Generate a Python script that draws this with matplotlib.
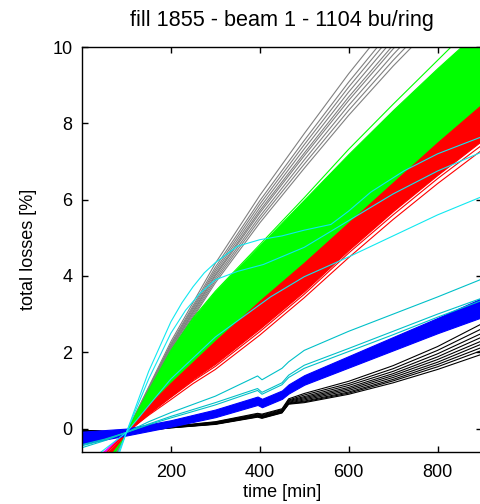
"""Total losses vs time for fill 1855, beam 1 (bundles of bunch-by-bunch curves)."""

from __future__ import annotations

import matplotlib

matplotlib.use("Agg")
matplotlib.rcParams["font.family"] = ["Liberation Sans", "DejaVu Sans"]
matplotlib.rcParams["font.size"] = 13

import matplotlib.pyplot as plt  # noqa: E402

OUTPUT = "out.png"

# time grids [min]
T_GRAY = [0, 100, 200, 300, 400, 500, 600, 700, 800, 900]
T_FAN = [0, 50, 100, 150, 200, 250, 300, 400, 500, 600, 700, 800, 900]
T_STEP = [0, 100, 200, 300, 395, 405, 450, 465, 500, 600, 700, 800, 900]
T_TEAL = [0, 50, 100, 150, 200, 300, 395, 405, 450, 465, 500, 600, 700, 800, 900]
T_CYAN1 = [0, 50, 100, 150, 200, 225, 250, 275, 300, 350, 400, 450, 500, 560, 600, 650, 724, 800, 900]
T_CYAN2 = [0, 50, 100, 150, 200, 233, 266, 300, 350, 408, 500, 600, 700, 800, 900]
T_CYAN3 = [0, 50, 100, 200, 300, 424, 500, 600, 700, 800, 900]

# gray bundle [%]
gray_lines = [
    [-2.39, -0.1, 2.00, 3.82, 5.39, 6.82, 8.21, 9.50, 10.69, 11.84],
    [-2.43, -0.1, 2.03, 3.88, 5.48, 6.93, 8.34, 9.65, 10.86, 12.03],
    [-2.46, -0.1, 2.07, 3.94, 5.56, 7.04, 8.47, 9.80, 11.03, 12.21],
    [-2.50, -0.1, 2.10, 4.00, 5.65, 7.15, 8.60, 9.95, 11.20, 12.40],
    [-2.52, -0.1, 2.12, 4.04, 5.71, 7.22, 8.69, 10.05, 11.31, 12.53],
    [-2.56, -0.1, 2.16, 4.10, 5.79, 7.33, 8.82, 10.20, 11.48, 12.71],
    [-2.60, -0.1, 2.19, 4.16, 5.88, 7.44, 8.95, 10.35, 11.65, 12.90],
    [-2.63, -0.1, 2.22, 4.23, 5.97, 7.55, 9.08, 10.50, 11.82, 13.09],
    [-2.69, -0.1, 2.28, 4.33, 6.11, 7.73, 9.30, 10.75, 12.10, 13.40],
]

# green / red / magenta fan (on T_FAN)
green_top = [-2.0, -1.05, -0.1, 1.0, 2.05, 2.9, 3.6, 4.8, 6.0, 7.2, 8.35, 9.45, 10.5]
green_stray = [-2.1, -1.1, -0.1, 1.0, 2.05, 2.9, 3.6, 4.82, 6.05, 7.32, 8.5, 9.65, 10.8]
red_top = [-1.6, -0.85, -0.1, 0.62, 1.2, 1.75, 2.3, 3.35, 4.35, 5.4, 6.45, 7.5, 8.5]
red_bottom = [-1.35, -0.72, -0.1, 0.4, 0.85, 1.3, 1.7, 2.62, 3.6, 4.68, 5.7, 6.65, 7.55]
red_stray = [
    [-1.3, -0.7, -0.1, 0.38, 0.82, 1.25, 1.63, 2.54, 3.52, 4.6, 5.6, 6.55, 7.43],
    [-1.25, -0.68, -0.1, 0.35, 0.76, 1.18, 1.55, 2.45, 3.43, 4.48, 5.48, 6.42, 7.3],
]
magenta_line = [-1.15, -0.62, -0.1, 0.45, 0.95, 1.45, 1.9, 2.85, 3.8, 4.85, 5.85, 6.8, 7.7]

# blue band (on T_STEP)
blue_low = [-0.40, -0.18, 0.05, 0.30, 0.62, 0.56, 0.78, 0.92, 1.15, 1.60, 2.05, 2.50, 2.92]
blue_high = [-0.08, 0.0, 0.22, 0.50, 0.84, 0.78, 1.00, 1.16, 1.40, 1.90, 2.40, 2.90, 3.42]

# black bundle (on T_STEP)
black_lines = [
    [-0.05, -0.1, 0.02, 0.11, 0.30, 0.27, 0.41, 0.64, 0.68, 0.90, 1.20, 1.55, 1.95],
    [-0.05, -0.1, 0.02, 0.12, 0.31, 0.28, 0.42, 0.65, 0.70, 0.93, 1.25, 1.62, 2.05],
    [-0.05, -0.1, 0.03, 0.12, 0.32, 0.29, 0.43, 0.66, 0.72, 0.96, 1.29, 1.68, 2.13],
    [-0.05, -0.1, 0.03, 0.13, 0.33, 0.30, 0.44, 0.67, 0.75, 1.00, 1.34, 1.74, 2.22],
    [-0.06, -0.1, 0.04, 0.14, 0.34, 0.31, 0.45, 0.69, 0.78, 1.04, 1.39, 1.81, 2.30],
    [-0.06, -0.1, 0.04, 0.15, 0.35, 0.32, 0.47, 0.71, 0.81, 1.08, 1.44, 1.88, 2.40],
    [-0.06, -0.1, 0.05, 0.16, 0.36, 0.34, 0.48, 0.73, 0.84, 1.13, 1.50, 1.96, 2.50],
    [-0.06, -0.1, 0.05, 0.17, 0.38, 0.36, 0.50, 0.75, 0.88, 1.18, 1.57, 2.05, 2.62],
    [-0.06, -0.1, 0.06, 0.18, 0.40, 0.38, 0.52, 0.78, 0.92, 1.24, 1.65, 2.15, 2.75],
]

# teal lines (on T_TEAL)
teal_lines = [
    [-0.45, -0.30, -0.1, 0.18, 0.42, 0.85, 1.38, 1.28, 1.58, 1.75, 2.05, 2.55, 3.00, 3.45, 3.92],
    [-0.42, -0.28, -0.1, 0.12, 0.32, 0.68, 1.05, 0.95, 1.20, 1.40, 1.66, 2.10, 2.55, 3.00, 3.42],
    [-0.50, -0.32, -0.1, 0.10, 0.28, 0.62, 1.00, 0.90, 1.15, 1.34, 1.58, 2.02, 2.46, 2.92, 3.36],
]

# bright cyan lines
cyan1 = [-3.5, -1.8, -0.1, 1.5, 2.8, 3.3, 3.72, 4.08, 4.35, 4.78, 4.95, 5.05, 5.2, 5.35, 5.7,
         6.2, 6.75, 7.2, 7.65]
cyan2 = [-3.0, -1.55, -0.1, 1.3, 2.5, 3.1, 3.55, 3.9, 4.12, 4.3, 4.75, 5.45, 6.15, 6.75, 7.25]
cyan3 = [-1.0, -0.55, -0.1, 1.3, 2.4, 3.45, 3.98, 4.5, 5.05, 5.6, 6.08]

X_TICKS = [200, 400, 600, 800]
Y_TICKS = [0, 2, 4, 6, 8, 10]

GRAY = "#808080"
GREEN = "#00ff00"
RED = "#ff0000"
MAGENTA = "#ff00ff"
BLUE = "#0000ff"
TEAL = "#00c0c8"
CYAN = "#10e8f0"


def main() -> None:
    fig = plt.figure(figsize=(4.81, 5.04), dpi=100)
    ax = fig.add_axes([82 / 481, 52.5 / 504, 400 / 481, 404.5 / 504])
    lw = 0.8

    # drawing order matters: later bundles cover earlier ones
    for ys in gray_lines:
        ax.plot(T_GRAY, ys, color=GRAY, lw=lw, zorder=2)

    ax.fill_between(T_FAN, red_top, green_top, color=GREEN, lw=0.8, zorder=3)
    ax.plot(T_FAN, green_stray, color=GREEN, lw=lw, zorder=3)
    ax.plot(T_FAN, magenta_line, color=MAGENTA, lw=1.5, zorder=4)
    ax.fill_between(T_FAN, red_bottom, red_top, color=RED, lw=0.8, zorder=5)
    for ys in red_stray:
        ax.plot(T_FAN, ys, color=RED, lw=lw, zorder=5)

    for ys in black_lines:
        ax.plot(T_STEP, ys, color="black", lw=lw, zorder=6)
    ax.fill_between(T_STEP, blue_low, blue_high, color=BLUE, lw=0.8, zorder=7)
    for ys in teal_lines:
        ax.plot(T_TEAL, ys, color=TEAL, lw=lw, zorder=8)

    ax.plot(T_CYAN1, cyan1, color=CYAN, lw=lw, zorder=8)
    ax.plot(T_CYAN2, cyan2, color=CYAN, lw=lw, zorder=8)
    ax.plot(T_CYAN3, cyan3, color=CYAN, lw=lw, zorder=8)

    ax.set_xlim(0, 900)
    ax.set_ylim(-0.6, 10)
    ax.set_xticks(X_TICKS)
    ax.set_yticks(Y_TICKS)
    ax.tick_params(direction="in", length=4, width=1, top=True, right=True, pad=7)
    ax.tick_params(axis="x", pad=9)
    for spine in ax.spines.values():
        spine.set_linewidth(1.0)
        spine.set_zorder(10)

    ax.set_xlabel("time [min]", labelpad=2)
    ax.set_ylabel("total losses [%]", labelpad=11)
    ax.set_title("fill 1855 - beam 1 - 1104 bu/ring", pad=15)

    fig.savefig(OUTPUT, dpi=100)
    plt.close(fig)


if __name__ == "__main__":
    main()
